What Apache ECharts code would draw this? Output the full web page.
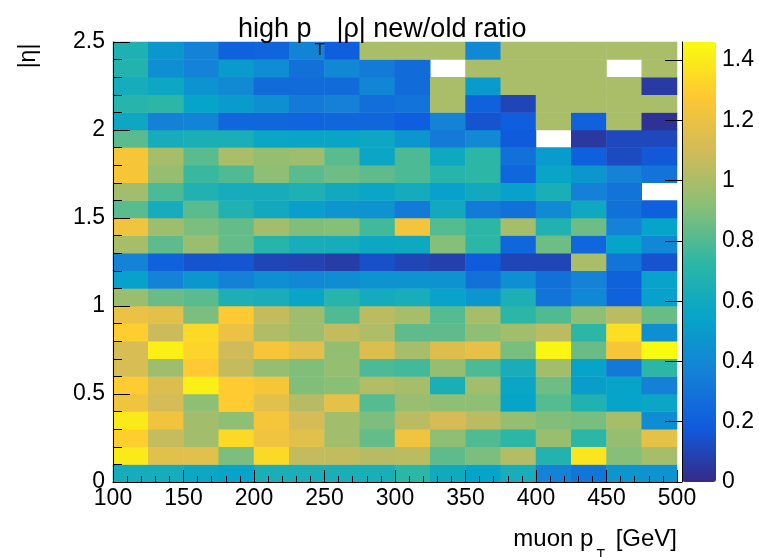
<!DOCTYPE html>
<html><head><meta charset="utf-8">
<script src="https://cdn.jsdelivr.net/npm/echarts@6/dist/echarts.min.js"></script>
<style>html,body{margin:0;padding:0;background:#fff}#c{width:759px;height:557px}</style>
</head><body><div id="c"></div>
<script>
// muon pT bins (GeV), 25 GeV wide
const ptBins = ['100-125','125-150','150-175','175-200','200-225','225-250','250-275','275-300',
                '300-325','325-350','350-375','375-400','400-425','425-450','450-475','475-500'];
// |eta| bins, 0.1 wide
const etaBins = ['0.0-0.1','0.1-0.2','0.2-0.3','0.3-0.4','0.4-0.5','0.5-0.6','0.6-0.7','0.7-0.8','0.8-0.9','0.9-1.0',
                 '1.0-1.1','1.1-1.2','1.2-1.3','1.3-1.4','1.4-1.5','1.5-1.6','1.6-1.7','1.7-1.8','1.8-1.9','1.9-2.0',
                 '2.0-2.1','2.1-2.2','2.2-2.3','2.3-2.4','2.4-2.5'];
const xTickValues = [100,150,200,250,300,350,400,450,500];
const yTickValues = [0,0.5,1,1.5,2,2.5];
const zTickValues = [0,0.2,0.4,0.6,0.8,1.0,1.2,1.4];
const zMin = 0, zMax = 1.46;

// ratio per |eta| row (bottom row first), one value per pT bin; null = empty bin
const eta00 = [0.62,0.62,0.58,0.55,0.64,0.64,0.64,0.64,0.72,0.60,0.55,0.63,0.37,0.31,0.48,0.46];
const eta01 = [1.40,1.16,1.16,0.89,1.34,1.06,1.06,1.03,1.04,0.83,0.89,1.02,0.68,1.38,0.91,0.99];
const eta02 = [1.30,1.07,0.98,1.34,1.22,1.16,0.98,0.84,1.22,0.93,0.80,0.72,0.96,0.72,0.95,1.18];
const eta03 = [1.40,1.22,0.98,0.93,1.24,1.11,0.98,0.89,1.04,1.11,1.04,0.95,0.90,0.88,0.99,0.43];
const eta04 = [1.22,1.11,0.93,1.29,1.16,1.03,1.18,0.81,0.96,0.93,0.93,0.55,0.81,0.67,0.55,0.57];
const eta05 = [1.29,1.14,1.42,1.29,1.25,0.90,0.92,1.02,0.99,0.64,0.98,0.57,0.86,0.51,0.55,0.36];
const eta06 = [1.12,0.97,1.28,1.06,0.95,0.90,0.95,0.79,0.77,0.95,0.79,0.63,0.98,0.55,0.32,0.72];
const eta07 = [1.12,1.42,1.32,1.09,1.25,1.16,0.94,1.14,0.99,1.14,1.18,0.88,1.44,0.85,1.25,1.46];
const eta08 = [1.30,1.08,1.34,1.20,1.01,0.97,1.06,1.01,0.83,0.83,0.93,0.98,1.04,0.72,1.36,0.44];
const eta09 = [1.20,1.17,0.89,1.28,1.06,0.97,0.80,1.04,0.99,0.81,0.99,0.72,0.80,0.93,1.04,0.85];
const eta10 = [0.96,0.85,0.82,0.65,0.63,0.56,0.70,0.61,0.63,0.54,0.48,0.65,0.30,0.40,0.21,0.53];
const eta11 = [0.53,0.37,0.48,0.36,0.44,0.40,0.43,0.46,0.46,0.46,0.28,0.44,0.28,0.37,0.21,0.54];
const eta12 = [0.37,0.21,0.15,0.16,0.10,0.09,0.07,0.14,0.10,0.08,0.18,0.10,0.10,1.00,0.30,0.15];
const eta13 = [0.99,0.83,0.96,0.84,0.70,0.63,0.62,0.58,0.59,0.91,0.72,0.23,0.86,0.23,0.55,0.40];
const eta14 = [1.22,0.97,0.89,0.84,0.98,0.90,0.91,0.77,1.23,0.81,0.72,0.99,0.67,0.86,0.37,0.55];
const eta15 = [0.82,0.62,0.82,0.67,0.60,0.52,0.47,0.46,0.33,0.60,0.33,0.28,0.41,0.59,0.28,0.20];
const eta16 = [0.98,0.79,0.67,0.62,0.62,0.66,0.60,0.57,0.61,0.53,0.60,0.53,0.64,0.36,0.30,null];
const eta17 = [1.25,0.95,0.75,0.80,0.93,0.82,0.86,0.83,0.79,0.70,0.72,0.23,0.56,0.48,0.37,0.30];
const eta18 = [1.25,0.99,0.82,1.00,0.95,0.97,0.82,0.57,0.79,0.59,0.72,0.28,0.50,0.20,0.12,0.17];
const eta19 = [0.82,0.62,0.64,0.64,0.57,0.56,0.56,0.58,0.48,0.33,0.41,0.18,null,0.05,0.11,0.11];
const eta20 = [0.58,0.36,0.38,0.23,0.23,0.22,0.23,0.23,0.19,0.37,0.15,0.19,1.00,0.21,1.00,0.03];
const eta21 = [0.70,0.72,0.55,0.50,0.44,0.33,0.36,0.27,0.30,1.00,0.21,0.10,1.00,1.00,1.00,1.00];
const eta22 = [0.62,0.58,0.46,0.41,0.26,0.26,0.26,0.39,0.26,1.00,0.50,1.00,1.00,1.00,1.00,0.06];
const eta23 = [0.68,0.44,0.37,0.50,0.43,0.28,0.40,0.33,0.26,null,1.00,1.00,1.00,1.00,null,1.00];
const eta24 = [0.66,0.48,0.37,0.21,0.22,0.38,0.19,1.00,1.00,1.00,0.40,1.00,1.00,1.00,1.00,1.00];

const etaRows = [eta00,eta01,eta02,eta03,eta04,eta05,eta06,eta07,eta08,eta09,eta10,eta11,eta12,
                 eta13,eta14,eta15,eta16,eta17,eta18,eta19,eta20,eta21,eta22,eta23,eta24];

const heatData = [];
etaRows.forEach((row, yi) => row.forEach((v, xi) => { if (v !== null) heatData.push([xi, yi, v]); }));

// ROOT kBird palette
const birdPalette = ['#352a87','#0f5cdd','#1481d6','#06a4ca','#2eb7a4','#87bf77','#d1bb59','#fec832','#f9fb0e'];
const FONT = 'Liberation Sans';

const chart = echarts.init(document.getElementById('c'), null, {renderer:'canvas'});
const G = {left:113, top:42, width:564, height:440};
chart.setOption({
  animation:false,
  backgroundColor:'#fff',
  title:[
    {text:'{n|high p}{s|T}{n| |ρ| new/old ratio}', left:238, top:16, padding:0,
     textStyle:{fontWeight:'normal',
       rich:{n:{fontSize:27,fontFamily:FONT,fontWeight:'normal',color:'#000',lineHeight:32,verticalAlign:'top'},
             s:{fontSize:17,fontFamily:FONT,fontWeight:'normal',color:'#000',lineHeight:43,verticalAlign:'bottom',padding:[0,4,0,3]}}}},
    {text:'{n|muon p}{s|T}{n| [GeV]}', right:82, top:527, padding:0,
     textStyle:{fontWeight:'normal',
       rich:{n:{fontSize:24,fontFamily:FONT,fontWeight:'normal',color:'#000',lineHeight:27,verticalAlign:'top'},
             s:{fontSize:14,fontFamily:FONT,fontWeight:'normal',color:'#000',lineHeight:35,verticalAlign:'bottom',padding:[0,4,0,3]}}}}
  ],
  graphic:[
    {type:'text', x:29, y:56, rotation:Math.PI/2,
     style:{text:'|η|', font:'23px "Liberation Sans"', fill:'#000', textAlign:'center', textVerticalAlign:'middle'}}
  ],
  grid:[
    Object.assign({}, G),
    Object.assign({}, G),
    {left:682, top:42, width:34, height:440}
  ],
  xAxis:[
    {gridIndex:0, type:'category', data:ptBins, show:false},
    {gridIndex:1, type:'value', min:100, max:500, interval:50, z:10,
     axisLine:{show:true, lineStyle:{color:'#000', width:1}},
     axisTick:{show:true, inside:true, length:12, lineStyle:{color:'#000'}},
     minorTick:{show:true, splitNumber:5, length:6, lineStyle:{color:'#000'}},
     axisLabel:{fontSize:23, fontFamily:FONT, color:'#000', margin:5, customValues:xTickValues},
     splitLine:{show:false}},
    {gridIndex:2, type:'value', show:false}
  ],
  yAxis:[
    {gridIndex:0, type:'category', data:etaBins, show:false},
    {gridIndex:1, type:'value', min:0, max:2.5, interval:0.5, z:10,
     axisLine:{show:true, lineStyle:{color:'#000', width:1}},
     axisTick:{show:true, inside:true, length:17, lineStyle:{color:'#000'}},
     minorTick:{show:true, splitNumber:5, length:9, lineStyle:{color:'#000'}},
     axisLabel:{fontSize:23, fontFamily:FONT, color:'#000', margin:8, customValues:yTickValues},
     splitLine:{show:false}},
    {gridIndex:2, type:'value', position:'right', min:zMin, max:zMax, z:10,
     axisLine:{show:true, lineStyle:{color:'#000', width:1}},
     axisTick:{show:true, inside:true, length:17, lineStyle:{color:'#000'}, customValues:zTickValues},
     axisLabel:{fontSize:23, fontFamily:FONT, color:'#000', margin:6, customValues:zTickValues},
     splitLine:{show:false}}
  ],
  visualMap:{type:'continuous', min:zMin, max:zMax, seriesIndex:0, orient:'vertical',
    left:682, top:42, itemWidth:34, itemHeight:440, padding:0, text:null, showLabel:false,
    calculable:false, hoverLink:false, inRange:{color:birdPalette}},
  series:[{type:'heatmap', xAxisIndex:0, yAxisIndex:0, data:heatData, progressive:0,
    emphasis:{disabled:true}, itemStyle:{borderWidth:0}}]
});
</script></body></html>
